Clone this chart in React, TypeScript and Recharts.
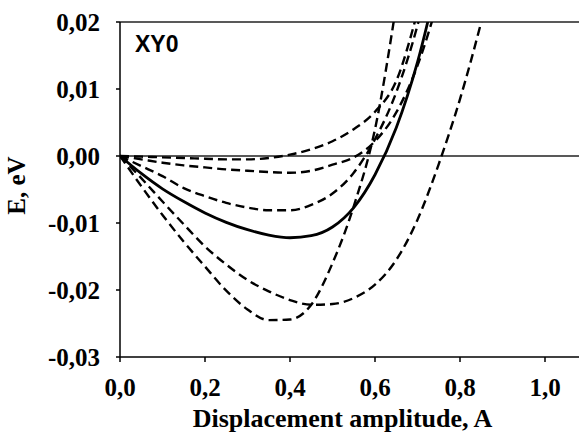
import { LineChart, Line, XAxis, YAxis, ReferenceLine, Label } from "recharts";

const xs = [0, 0.05, 0.1, 0.15, 0.2, 0.25, 0.3, 0.35, 0.4, 0.45, 0.5, 0.55, 0.6, 0.65, 0.7, 0.75, 0.8, 0.85, 0.9];

// energy curves, eV
const solid = [0, -0.0026, -0.0049, -0.0068, -0.0085, -0.0099, -0.011, -0.0118, -0.0122, -0.0119, -0.0106, -0.0077, -0.0028, 0.0042, 0.014, 0.027];
const dash1 = [0, -0.0001, -0.0002, -0.0003, -0.0004, -0.0005, -0.0005, -0.0003, 0.0002, 0.001, 0.0022, 0.004, 0.0066, 0.0112, 0.0215];
const dash2 = [0, -0.0005, -0.001, -0.0014, -0.0017, -0.002, -0.0022, -0.0024, -0.0025, -0.0022, -0.0013, -0.0002, 0.0022, 0.0065, 0.0135, 0.0235];
const dash3 = [0, -0.0015, -0.003, -0.0048, -0.006, -0.007, -0.0077, -0.0081, -0.0081, -0.0073, -0.0056, -0.0025, 0.0025, 0.0095, 0.0195, 0.033];
const dash4 = [0, -0.0033, -0.0068, -0.0102, -0.0135, -0.0162, -0.0185, -0.0202, -0.0215, -0.0222, -0.0221, -0.0212, -0.0192, -0.0155, -0.0095, -0.0012, 0.0085, 0.02, 0.033];
const dash5 = [0, -0.0045, -0.0088, -0.0128, -0.0165, -0.0201, -0.0229, -0.0245, -0.0244, -0.0222, -0.016, -0.0075, 0.004, 0.0225];

const xTicks = [0, 0.2, 0.4, 0.6, 0.8, 1.0];
const yTicks = [-0.03, -0.02, -0.01, 0, 0.01, 0.02];

const data = xs.map((x, i) => ({
  x,
  solid: solid[i],
  d1: dash1[i],
  d2: dash2[i],
  d3: dash3[i],
  d4: dash4[i],
  d5: dash5[i],
}));

const tickFont = { fontFamily: "'Liberation Serif', serif", fontWeight: "bold", fontSize: 25, fill: "#000" };
const dashed = ["d1", "d2", "d3", "d4", "d5"];

export default function App() {
  return (
    <div style={{ position: "absolute", left: 0, top: 0, width: 580, height: 432, background: "#fff" }}>
      <LineChart width={580} height={432} data={data} margin={{ top: 22, right: 1, left: 0, bottom: 0 }}>
        <XAxis
          dataKey="x"
          type="number"
          domain={[0, 1.08]}
          ticks={xTicks}
          tickFormatter={(v: number) => v.toFixed(1).replace(".", ",")}
          tick={tickFont}
          tickSize={5}
          tickMargin={16}
          stroke="#000"
          strokeWidth={1.5}
          height={75}
          allowDataOverflow
        >
          <Label
            value="Displacement amplitude, A"
            position="insideBottom"
            offset={5}
            dx={-7}
            style={{ fontFamily: "'Liberation Serif', serif", fontWeight: "bold", fontSize: 26, fill: "#000" }}
          />
        </XAxis>
        <YAxis
          type="number"
          domain={[-0.03, 0.02]}
          ticks={yTicks}
          tickFormatter={(v: number) => v.toFixed(2).replace(".", ",")}
          tick={tickFont}
          tickSize={4}
          tickMargin={16}
          stroke="#000"
          strokeWidth={1.5}
          width={120}
          allowDataOverflow
        >
          <Label
            value="E, eV"
            angle={-90}
            position="insideLeft"
            offset={16}
            dy={-4}
            style={{ fontFamily: "'Liberation Serif', serif", fontWeight: "bold", fontSize: 25, fill: "#000", textAnchor: "middle" }}
          />
        </YAxis>
        <ReferenceLine y={0.02} stroke="#222" strokeWidth={1.5} />
        <ReferenceLine y={0} stroke="#222" strokeWidth={1.5} />
        {dashed.map((k) => (
          <Line
            key={k}
            dataKey={k}
            type="monotone"
            stroke="#000"
            strokeWidth={2.4}
            strokeDasharray="9 5"
            dot={false}
            isAnimationActive={false}
          />
        ))}
        <Line dataKey="solid" type="monotone" stroke="#000" strokeWidth={2.8} dot={false} isAnimationActive={false} />
      </LineChart>
      <div
        style={{
          position: "absolute",
          left: 135,
          top: 31,
          fontFamily: "'Liberation Sans', Arial, sans-serif",
          fontWeight: "bold",
          fontSize: 23,
          lineHeight: "26px",
          color: "#000",
        }}
      >
        XY0
      </div>
    </div>
  );
}
